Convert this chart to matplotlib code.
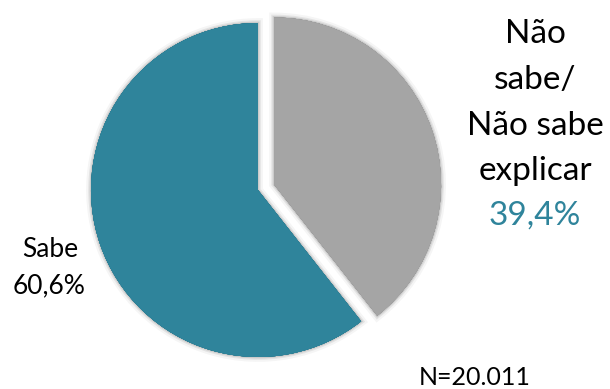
import matplotlib.pyplot as plt
import matplotlib.patheffects as pe

# answer shares (%)
labels = ['Não sabe/ Não sabe explicar', 'Sabe']
shares = [39.4, 60.6]
share_text = ['39,4%', '60,6%']
n_text = 'N=20.011'

teal = '#2F849B'
grey = '#A5A5A5'

plt.rcParams['font.family'] = ['Lato', 'DejaVu Sans']

W, H = 610, 389
fig = plt.figure(figsize=(W / 100, H / 100), dpi=100)
ax = fig.add_axes([0, 0, 1, 1])

# axes in pixel units, y going up
wedges, _ = ax.pie(shares, colors=[grey, teal], startangle=90, counterclock=False,
                   explode=[17, 0], center=(258, H - 190), radius=167,
                   frame=True)
ax.set_xlim(0, W)
ax.set_ylim(0, H)
ax.set_aspect('equal')
ax.axis('off')

# soft halo round each slice
for w in wedges:
    w.set_path_effects([
        pe.withStroke(linewidth=7, foreground=(0, 0, 0, 0.04)),
        pe.withStroke(linewidth=4, foreground=(0, 0, 0, 0.07)),
        pe.withStroke(linewidth=2, foreground=(0, 0, 0, 0.10)),
        pe.Normal(),
    ])

# left label
ax.text(50, H - 257, labels[1], ha='center', va='baseline', fontsize=19, color='black')
ax.text(49, H - 293, share_text[1], ha='center', va='baseline', fontsize=19, color='black')

# right label, one line at a time
right_lines = ['Não', 'sabe/', 'Não sabe', 'explicar']
baselines = [43, 89, 135, 180]
for txt, b in zip(right_lines, baselines):
    ax.text(535, H - b, txt, ha='center', va='baseline', fontsize=24, color='black')
ax.text(535, H - 225, share_text[0], ha='center', va='baseline', fontsize=24, color=teal)

ax.text(475, H - 385, n_text, ha='center', va='baseline', fontsize=18, color='black')

fig.savefig('out.png', dpi=100)
